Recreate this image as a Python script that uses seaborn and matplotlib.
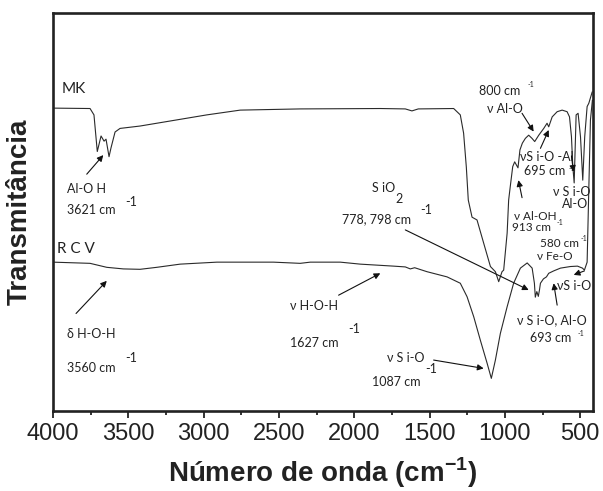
import matplotlib
matplotlib.use("Agg")
import matplotlib.pyplot as plt
import seaborn as sns
import pandas as pd
from matplotlib.ticker import MultipleLocator

# ---- data (wavenumber cm-1, transmittance a.u.) ----
mk_wn = [4000, 3754, 3728, 3706, 3681, 3661, 3648, 3628, 3615, 3588, 3555, 3422,
         2979, 2757, 2359, 1827, 1661, 1617, 1575, 1340, 1296, 1274, 1256, 1243,
         1218, 1185, 1141, 1096, 1063, 1041, 1019, 1008, 985, 975, 963, 948, 935,
         913, 900, 884, 864, 842, 820, 802, 775, 742, 720, 709, 686, 653, 620, 587,
         571, 558, 549, 540, 527, 514, 498, 483, 470, 454, 443, 420]
mk_t = [76.1, 76.0, 74.4, 65.2, 69.1, 67.8, 68.3, 63.9, 66.1, 70.1, 71.0, 71.6,
        74.4, 75.6, 75.9, 76.0, 75.9, 75.4, 75.9, 76.0, 74.4, 69.8, 61.3, 53.0,
        48.7, 48.0, 42.2, 36.3, 35.0, 32.5, 35.0, 35.4, 44.7, 53.0, 56.8, 61.4, 62.6,
        61.1, 65.6, 67.3, 68.5, 69.3, 68.5, 67.7, 69.3, 71.0, 72.3, 71.4, 73.9, 75.2, 75.6, 75.2,
        73.9, 68.9, 61.4, 57.3, 74.4, 74.8, 68.9, 58.0, 68.9, 76.5, 77.3, 80.2]

rcv_wn = [4000, 3754, 3643, 3533, 3422, 3311, 3156, 2912, 2536, 2359, 2292, 2093,
          1960, 1739, 1661, 1628, 1599, 1517, 1384, 1296, 1251, 1207, 1163, 1118,
          1090, 1063, 1030, 985, 942, 897, 852, 819, 804, 798, 788, 778, 770, 764,
          744, 724, 709, 676, 631, 565, 518, 485, 472, 454, 443, 432, 419]
rcv_t = [37.4, 37.1, 36.1, 35.7, 35.6, 36.1, 36.9, 37.4, 37.4, 37.1, 37.4, 37.4,
         36.9, 36.4, 36.2, 35.7, 36.0, 35.0, 33.7, 32.1, 28.7, 23.7, 17.8, 12.0,
         8.2, 12.8, 19.5, 26.2, 32.1, 35.9, 37.2, 35.9, 32.1, 28.6, 30.0, 28.8, 30.5, 32.1,
         33.2, 33.7, 34.6, 35.2, 35.9, 36.3, 36.4, 35.9, 35.4, 37.4, 55.5, 73.1, 78.1]

x_ticks = [4000, 3500, 3000, 2500, 2000, 1500, 1000, 500]
x_label = "Número de onda (cm$^{\\mathbf{-1}}$)"
y_label = "Transmitância"

df = pd.concat([
    pd.DataFrame({"wn": mk_wn, "T": mk_t, "amostra": "MK"}),
    pd.DataFrame({"wn": rcv_wn, "T": rcv_t, "amostra": "RCV"}),
])

sns.set_theme(style="ticks")
plt.rcParams["font.family"] = ["Liberation Sans", "DejaVu Sans"]
plt.rcParams["mathtext.fontset"] = "custom"
plt.rcParams["mathtext.rm"] = "Liberation Sans"
plt.rcParams["mathtext.bf"] = "Liberation Sans:bold"

fig = plt.figure(figsize=(6.03, 4.91), dpi=100)
ax = fig.add_axes([53 / 603, 80 / 491, 540 / 603, 398 / 491])

sns.lineplot(data=df, x="wn", y="T", hue="amostra", units="amostra",
             estimator=None, sort=False, palette={"MK": "#2a2a2a", "RCV": "#2a2a2a"},
             legend=False, linewidth=0.8, ax=ax)

ax.set_xlim(4000, 415)
ax.set_ylim(0, 100)
ax.set_xticks(x_ticks)
ax.set_xticklabels([str(t) for t in x_ticks])
ax.xaxis.set_minor_locator(MultipleLocator(250))
ax.set_yticks([])
ax.tick_params(axis="x", which="major", direction="out", length=5, width=1.3,
               labelsize=17, pad=4, color="#222222", labelcolor="#222222")
ax.tick_params(axis="x", which="minor", direction="out", length=3, width=1.3,
               color="#222222")
for s in ax.spines.values():
    s.set_linewidth(1.9)
    s.set_color("#222222")

ax.set_xlabel(x_label, fontsize=20, fontweight="bold", color="#222222")
ax.xaxis.set_label_coords(0.5, -0.112)
ax.set_ylabel(y_label, fontsize=20, fontweight="bold", color="#222222")
ax.yaxis.set_label_coords(-0.038, 0.5)

AF = ["Lato", "DejaVu Sans"]
tc = "#222222"


def t(x, y, s, size=9, **kw):
    ax.text(x, y, s, fontsize=size, family=AF, color=tc, ha="left", va="center", **kw)


def arrow(xt, yt, xh, yh):
    ax.annotate("", xy=(xh, yh), xytext=(xt, yt),
                arrowprops=dict(arrowstyle="-|>", color="#111111", lw=0.8,
                                mutation_scale=9, shrinkA=0, shrinkB=0))


# sample names
t(3940, 80.9, "MK", size=11)
t(3973, 40.7, "R C V", size=11)

# MK OH
t(3909, 55.8, "Al-O H")
t(3909, 50.5, "3621 cm")
t(3522, 52.4, "-1")
arrow(3776, 59.5, 3666, 64.3)

# RCV water
t(3909, 19.3, "δ H-O-H")
t(3909, 10.8, "3560 cm")
t(3522, 13.4, "-1")
arrow(3847, 24.5, 3643, 32.7)

t(2425, 26.4, "ν H-O-H")
t(2425, 17.1, "1627 cm")
t(2040, 20.6, "-1")
arrow(2104, 29.1, 1827, 34.6)

# SiO2
t(1882, 56.0, "S iO")
t(1728, 53.3, "2")
t(2082, 48.2, "778, 798 cm")
t(1561, 50.5, "-1")
arrow(1661, 45.5, 842, 30.4)

# Si-O 1087
t(1783, 13.3, "ν S i-O")
t(1528, 10.6, "-1")
t(1880, 7.2, "1087 cm")
arrow(1473, 12.8, 1141, 10.7)

# 800 Al-O
t(1174, 80.5, "800 cm")
t(850, 82.0, "-1", size=5)
t(1118, 75.8, "ν Al-O")
arrow(886, 74.8, 809, 70.2)

# Si-O-Al 695
t(897, 63.8, "νS i-O -Al")
t(875, 60.3, "695 cm")
t(580, 60.9, "-1", size=5)
arrow(764, 66.0, 709, 70.6)
arrow(558, 64.1, 545, 60.1)

t(678, 54.9, "ν S i-O")
t(620, 52.0, "Al-O")

# Al-OH 913
t(942, 48.8, "ν Al-OH", size=8.5)
t(655, 47.4, "-1", size=5)
t(952, 46.2, "913 cm", size=8.5)
arrow(886, 53.6, 910, 58.0)

# Fe-O 580
t(764, 42.0, "580 cm", size=8.5)
t(497, 43.3, "-1", size=5)
t(786, 38.9, "ν Fe-O", size=8.5)
arrow(472, 35.2, 543, 34.2)

t(653, 31.4, "νS i-O")
arrow(653, 26.6, 676, 32.1)

t(919, 22.9, "ν S i-O, Al-O")
t(831, 18.3, "693 cm")
t(520, 19.5, "-1", size=5)

fig.savefig("out.png", dpi=100)
